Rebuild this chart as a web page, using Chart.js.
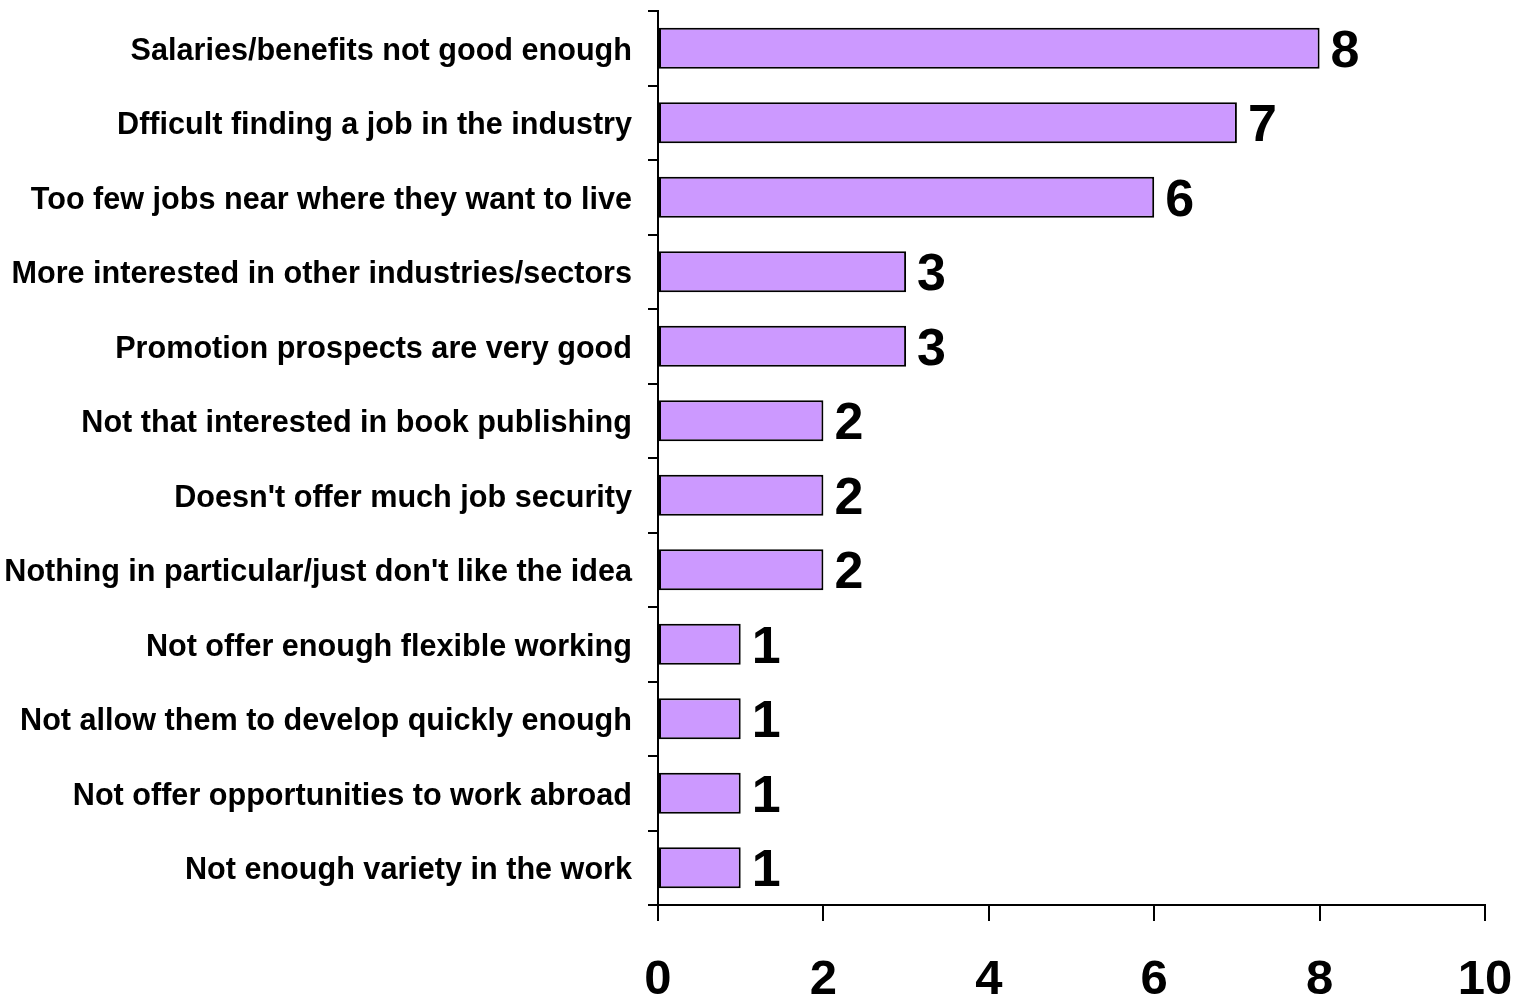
<!DOCTYPE html>
<html>
<head>
<meta charset="utf-8">
<script src="https://cdn.jsdelivr.net/npm/chart.js@4.4.0/dist/chart.umd.min.js"></script>
<style>
  html, body { margin: 0; padding: 0; background: #fff; }
  #wrap { width: 1521px; height: 997px; }
</style>
</head>
<body>
<div id="wrap"><canvas id="reasonsChart" width="1521" height="997"></canvas></div>
<script>
// data
const reasons = [
    "Salaries/benefits not good enough",
    "Dfficult finding a job in the industry",
    "Too few jobs near where they want to live",
    "More interested in other industries/sectors",
    "Promotion prospects are very good",
    "Not that interested in book publishing",
    "Doesn't offer much job security",
    "Nothing in particular/just don't like the idea",
    "Not offer enough flexible working",
    "Not allow them to develop quickly enough",
    "Not offer opportunities to work abroad",
    "Not enough variety in the work"
];
const counts = [8, 7, 6, 3, 3, 2, 2, 2, 1, 1, 1, 1];
const xTicks = [0, 2, 4, 6, 8, 10];

const FONT = "'Liberation Sans', Arial, sans-serif";

// value labels at the end of each bar
const barValues = {
    id: 'barValues',
    afterDatasetsDraw(chart) {
        const c = chart.ctx;
        const meta = chart.getDatasetMeta(0);
        c.save();
        c.font = "bold 52px " + FONT;
        c.fillStyle = "#000";
        c.textAlign = "left";
        c.textBaseline = "middle";
        meta.data.forEach((bar, i) => {
            c.fillText(String(counts[i]), bar.x + 11, bar.y + 4);
        });
        c.restore();
    }
};

const ctx = document.getElementById('reasonsChart').getContext('2d');
new Chart(ctx, {
    type: 'bar',
    data: {
        labels: reasons,
        datasets: [{
            data: counts,
            backgroundColor: '#cc99ff',
            borderColor: '#000',
            borderWidth: 2,
            borderSkipped: false,
            categoryPercentage: 1,
            barPercentage: 0.55
        }]
    },
    options: {
        responsive: false,
        animation: false,
        indexAxis: 'y',
        layout: { padding: { top: 11, right: 36, left: 0, bottom: 0 } },
        plugins: {
            legend: { display: false },
            tooltip: { enabled: false }
        },
        scales: {
            x: {
                min: 0,
                max: 10,
                afterBuildTicks: (scale) => { scale.ticks = xTicks.map(v => ({ value: v })); },
                afterFit: (scale) => {
                    scale.height = 92;
                    scale.paddingLeft = 0;
                    scale.paddingRight = 0;
                },
                border: { color: '#000', width: 2 },
                grid: { drawOnChartArea: false, color: '#000', lineWidth: 2, tickLength: 16 },
                ticks: {
                    color: '#000',
                    padding: 30,
                    font: { family: FONT, size: 49, weight: 'bold' },
                    maxRotation: 0
                }
            },
            y: {
                afterFit: (scale) => {
                    scale.width = 658;
                    scale.paddingTop = 0;
                    scale.paddingBottom = 0;
                },
                border: { color: '#000', width: 2 },
                grid: { drawOnChartArea: false, offset: true, color: '#000', lineWidth: 2, tickLength: 10 },
                ticks: {
                    color: '#000',
                    padding: 16,
                    labelOffset: 3,
                    font: { family: FONT, size: 30.6, weight: 'bold' }
                }
            }
        }
    },
    plugins: [barValues]
});
</script>
</body>
</html>
